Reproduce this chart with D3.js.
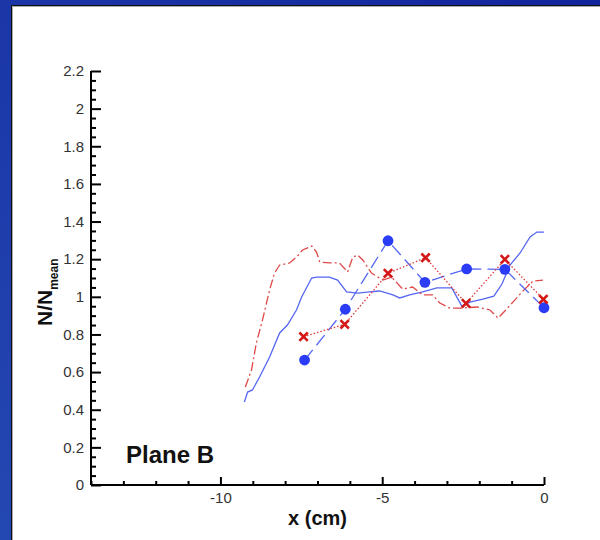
<!DOCTYPE html>
<html>
<head>
<meta charset="utf-8">
<script src="https://cdn.jsdelivr.net/npm/d3@7"></script>
<style>
  html, body { margin: 0; padding: 0; background: #fff; }
  svg { display: block; font-family: Arial, "Liberation Sans", sans-serif; }
</style>
</head>
<body>
<div id="chart"></div>
<script>
/* ---- data ---- */
const circleX = [-7.40, -6.14, -4.82, -3.68, -2.39, -1.21, 0];
const circleY = [0.664, 0.934, 1.298, 1.077, 1.148, 1.146, 0.942];

const crossX = [-7.43, -6.16, -4.82, -3.66, -2.41, -1.21, -0.02];
const crossY = [0.788, 0.854, 1.125, 1.208, 0.965, 1.199, 0.987];

const solidX = [-9.26, -9.16, -9.01, -8.79, -8.48, -8.17, -7.93, -7.65, -7.49, -7.18, -7.03, -6.63, -6.38, -6.10,
                -5.76, -5.39, -5.08, -4.67, -4.46, -4.15, -3.75, -3.31, -2.85, -2.54, -2.29, -1.89, -1.55, -1.30,
                -1.05, -0.74, -0.43, -0.22, 0];
const solidY = [0.441, 0.494, 0.505, 0.574, 0.680, 0.808, 0.850, 0.930, 0.999, 1.100, 1.105, 1.105, 1.089, 1.026,
                1.020, 1.026, 1.031, 1.010, 0.994, 1.010, 1.026, 1.047, 1.047, 0.951, 0.972, 0.988, 1.004, 1.068,
                1.169, 1.233, 1.318, 1.344, 1.344];

const dashDotX = [-9.23, -9.04, -8.89, -8.70, -8.48, -8.33, -8.17, -7.86, -7.65, -7.46, -7.18, -7.03, -6.93, -6.63,
                  -6.32, -6.07, -5.91, -5.76, -5.60, -5.33, -4.98, -4.71, -4.37, -4.06, -3.75, -3.44, -3.22, -2.91,
                  -2.54, -2.07, -1.67, -1.42, -1.21, -0.96, -0.68, -0.34, -0.03];
const dashDotY = [0.521, 0.611, 0.755, 0.877, 1.036, 1.126, 1.169, 1.180, 1.211, 1.249, 1.270, 1.238, 1.185, 1.180,
                  1.180, 1.132, 1.211, 1.222, 1.196, 1.126, 1.089, 1.105, 1.041, 1.052, 1.010, 1.010, 0.967, 0.940,
                  0.940, 0.946, 0.930, 0.887, 0.925, 0.972, 1.026, 1.084, 1.089];

const xMajor = [-10, -5, 0];
const yMajor = d3.range(0, 2.21, 0.2).map(v => +v.toFixed(1));

const W = 600, H = 540;
const svg = d3.select('#chart').append('svg').attr('width', W).attr('height', H);

/* blue frame + white panel */
const defs = svg.append('defs');
const grad = defs.append('linearGradient').attr('id', 'bg').attr('x1', 0).attr('y1', 1).attr('x2', 1).attr('y2', 0);
grad.append('stop').attr('offset', 0).attr('stop-color', '#2448b2');
grad.append('stop').attr('offset', 1).attr('stop-color', '#12249c');
svg.append('rect').attr('width', W).attr('height', H).attr('fill', 'url(#bg)');
svg.append('rect').attr('x', 11.5).attr('y', 5.5).attr('width', W).attr('height', H)
  .attr('fill', '#fff').attr('stroke', '#111').attr('stroke-width', 1);
svg.append('path').attr('d', `M12.5,${H} V6.5 H${W}`).attr('fill', 'none').attr('stroke', '#aaa');

/* scales */
const x = d3.scaleLinear().domain([-14, 0]).range([91, 544]);
const y = d3.scaleLinear().domain([0, 2.2]).range([485, 71]);

const g = svg.append('g');

/* axes: ticks point inward */
const xAx = g.append('g').attr('transform', `translate(0,${y(0)})`)
  .call(d3.axisBottom(x).tickValues(xMajor).tickSize(-8).tickPadding(7).tickFormat(d => String(d)));
g.append('g').attr('transform', `translate(0,${y(0)})`)
  .call(d3.axisBottom(x).tickValues(d3.range(-14, 0, 1).filter(v => !xMajor.includes(v))).tickSize(-4).tickFormat(''))
  .select('.domain').remove();

const yAx = g.append('g').attr('transform', `translate(${x(-14)},0)`)
  .call(d3.axisLeft(y).tickValues(yMajor).tickSize(-10).tickPadding(7).tickFormat(d => String(d)));
g.append('g').attr('transform', `translate(${x(-14)},0)`)
  .call(d3.axisLeft(y).tickValues(d3.range(0, 2.2, 0.05).map(v => +v.toFixed(2)).filter(v => Math.abs(v * 5 - Math.round(v * 5)) > 1e-6)).tickSize(-5).tickFormat(''))
  .select('.domain').remove();

g.selectAll('.domain').attr('stroke', '#000').attr('stroke-width', 2);
g.selectAll('.tick line').attr('stroke', '#000').attr('stroke-width', 2);
g.selectAll('.tick text').attr('font-size', 15).attr('fill', '#333')
  .attr('font-family', 'Arial, "Liberation Sans", sans-serif');
xAx.select('.domain').attr('d', `M${x(-14)},0H${x(0)}`);
yAx.select('.domain').attr('d', `M0,${y(0)}V${y(2.2)}`);

/* lines */
const line = d3.line().x(d => x(d[0])).y(d => y(d[1]));

g.append('path').datum(d3.zip(solidX, solidY)).attr('d', line)
  .attr('fill', 'none').attr('stroke', '#5566f2').attr('stroke-width', 1.3);

g.append('path').datum(d3.zip(dashDotX, dashDotY)).attr('d', line)
  .attr('fill', 'none').attr('stroke', '#e04848').attr('stroke-width', 1.3)
  .attr('stroke-dasharray', '9,3,2,3');

g.append('path').datum(d3.zip(circleX, circleY)).attr('d', line)
  .attr('fill', 'none').attr('stroke', '#5566f2').attr('stroke-width', 1.3)
  .attr('stroke-dasharray', '13,6');

g.append('path').datum(d3.zip(crossX, crossY)).attr('d', line)
  .attr('fill', 'none').attr('stroke', '#e03a3a').attr('stroke-width', 1.3)
  .attr('stroke-dasharray', '1.5,2');

/* markers */
g.append('g').selectAll('circle').data(d3.zip(circleX, circleY)).join('circle')
  .attr('cx', d => x(d[0])).attr('cy', d => y(d[1])).attr('r', 5.4)
  .attr('fill', '#2a3cf6');

const s = 4.2;
g.append('g').selectAll('path').data(d3.zip(crossX, crossY)).join('path')
  .attr('d', d => {
    const cx = x(d[0]), cy = y(d[1]);
    return `M${cx - s},${cy - s}L${cx + s},${cy + s}M${cx + s},${cy - s}L${cx - s},${cy + s}`;
  })
  .attr('stroke', '#d41818').attr('stroke-width', 2.6).attr('fill', 'none');

/* labels */
svg.append('text').attr('x', (x(-14) + x(0)) / 2).attr('y', 525).attr('text-anchor', 'middle')
  .attr('font-size', 20).attr('font-weight', 'bold').attr('fill', '#111').text('x (cm)');

const yl = svg.append('text').attr('transform', 'translate(52,326) rotate(-90)')
  .attr('font-size', 21).attr('font-weight', 'bold').attr('fill', '#111');
yl.append('tspan').text('N/N');
yl.append('tspan').attr('dy', 6).attr('font-size', 12).text('mean');

svg.append('text').attr('x', 126).attr('y', 463)
  .attr('font-size', 24).attr('font-weight', 'bold').attr('fill', '#111').text('Plane B');
</script>
</body>
</html>
